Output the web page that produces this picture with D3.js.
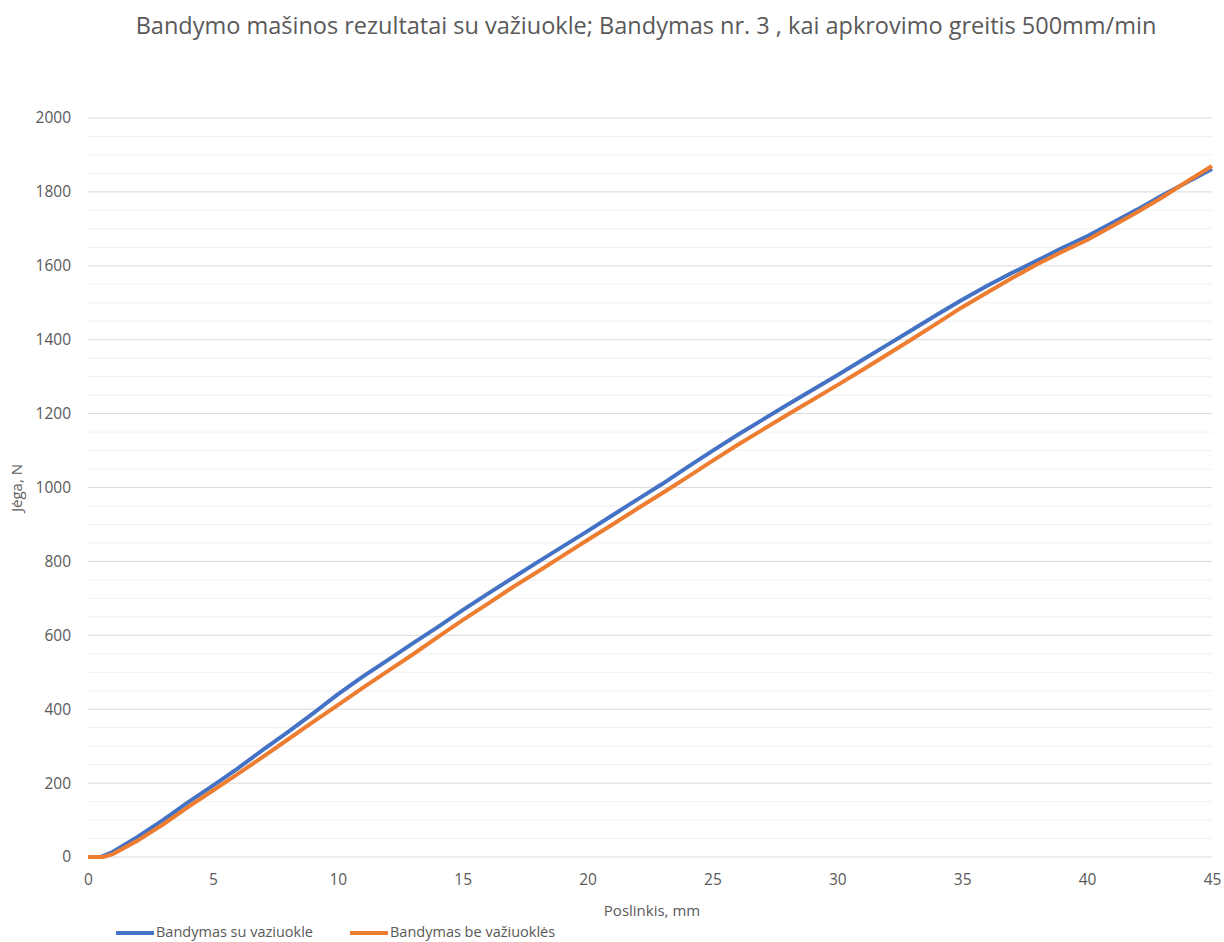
<!DOCTYPE html>
<html>
<head>
<meta charset="utf-8">
<script src="https://cdn.jsdelivr.net/npm/d3@7"></script>
<style>
  body { margin: 0; background: #fff; }
  text { font-family: "Open Sans", sans-serif; fill: #595959; }
</style>
</head>
<body>
<div id="chart"></div>
<script>
// data
var title = "Bandymo mašinos rezultatai su važiuokle; Bandymas nr. 3 , kai apkrovimo greitis 500mm/min";
var seriesNames = ["Bandymas su vaziuokle", "Bandymas be važiuoklės"];
var xTicks = [0, 5, 10, 15, 20, 25, 30, 35, 40, 45];
var yTicks = [0, 200, 400, 600, 800, 1000, 1200, 1400, 1600, 1800, 2000];

var blueX = [0, 0.5, 1, 2, 3, 4, 5, 6, 7, 8, 9, 10, 11, 12, 13, 14, 15, 16, 17, 18, 19, 20, 21, 22,
  23, 24, 25, 26, 27, 28, 29, 30, 31, 32, 33, 34, 35, 36, 37, 38, 39, 40, 41, 42, 43, 44, 45];
var blueY = [0, 0, 14, 55, 100, 148, 193, 240, 290, 338, 388, 440, 488, 533, 578, 622, 668, 712, 755, 798,
  840, 882, 925, 968, 1010, 1055, 1099, 1142, 1183, 1224, 1264, 1304, 1345, 1386, 1427, 1468, 1508,
  1546, 1581, 1614, 1648, 1680, 1716, 1752, 1790, 1826, 1862];

var orangeX = [0, 0.6, 1, 2, 3, 4, 5, 6, 7, 8, 9, 10, 11, 12, 13, 14, 15, 16, 17, 18, 19, 20, 21, 22,
  23, 24, 25, 26, 27, 28, 29, 30, 31, 32, 33, 34, 35, 36, 37, 38, 39, 40, 41, 42, 43, 44, 45];
var orangeY = [0, 0, 8, 45, 88, 135, 180, 225, 271, 318, 365, 411, 458, 503, 548, 595, 641, 685, 730, 772,
  815, 858, 900, 943, 985, 1028, 1072, 1115, 1156, 1197, 1237, 1277, 1318, 1360, 1402, 1445, 1488,
  1528, 1567, 1604, 1638, 1670, 1707, 1745, 1785, 1828, 1870];

var colors = ["#4472C4", "#ED7D31"];

var W = 1224, H = 942;
var svg = d3.select("#chart").append("svg").attr("width", W).attr("height", H);

var x = d3.scaleLinear().domain([0, 45]).range([88, 1212]);
var y = d3.scaleLinear().domain([0, 2000]).range([857, 118]);

svg.append("text")
  .attr("x", 646).attr("y", 34)
  .attr("text-anchor", "middle")
  .style("font-size", "23.5px")
  .text(title);

// minor gridlines every 50
var minor = d3.range(50, 2000, 50).filter(function(v) { return v % 200 != 0; });
svg.append("g").selectAll("line").data(minor).enter().append("line")
  .attr("x1", x(0)).attr("x2", x(45))
  .attr("y1", function(d) { return y(d); }).attr("y2", function(d) { return y(d); })
  .style("stroke", "#f0f0f0").style("stroke-width", "1px");

// major gridlines
svg.append("g").selectAll("line").data(yTicks).enter().append("line")
  .attr("x1", x(0)).attr("x2", x(45))
  .attr("y1", function(d) { return y(d); }).attr("y2", function(d) { return y(d); })
  .style("stroke", "#d9d9d9").style("stroke-width", "1px");

var yAxis = svg.append("g").attr("transform", "translate(" + (x(0) - 14) + ",0)")
  .call(d3.axisLeft(y).tickValues(yTicks).tickSize(0).tickFormat(d3.format("d")));
yAxis.select(".domain").remove();
yAxis.selectAll("text").style("font-size", "15.5px").style("fill", "#595959");

var xAxis = svg.append("g").attr("transform", "translate(0," + (y(0) + 14) + ")")
  .call(d3.axisBottom(x).tickValues(xTicks).tickSize(0));
xAxis.select(".domain").remove();
xAxis.selectAll("text").style("font-size", "15.5px").style("fill", "#595959");

svg.append("text")
  .attr("transform", "translate(22,488) rotate(-90)")
  .attr("text-anchor", "middle")
  .style("font-size", "15px")
  .text("Jėga, N");

svg.append("text")
  .attr("x", 652).attr("y", 916)
  .attr("text-anchor", "middle")
  .style("font-size", "15px")
  .text("Poslinkis, mm");

var line = d3.line()
  .x(function(d) { return x(d[0]); })
  .y(function(d) { return y(d[1]); });

var series = [d3.zip(blueX, blueY), d3.zip(orangeX, orangeY)];
series.forEach(function(s, i) {
  svg.append("path")
    .datum(s)
    .attr("d", line)
    .style("fill", "none")
    .style("stroke", colors[i])
    .style("stroke-width", "4px")
    .style("stroke-linejoin", "round");
});

// legend
var legendX = [116, 350];
seriesNames.forEach(function(name, i) {
  svg.append("line")
    .attr("x1", legendX[i]).attr("x2", legendX[i] + 38)
    .attr("y1", 933).attr("y2", 933)
    .style("stroke", colors[i]).style("stroke-width", "4px");
  svg.append("text")
    .attr("x", legendX[i] + 40).attr("y", 937)
    .style("font-size", "14.5px")
    .text(name);
});
</script>
</body>
</html>
